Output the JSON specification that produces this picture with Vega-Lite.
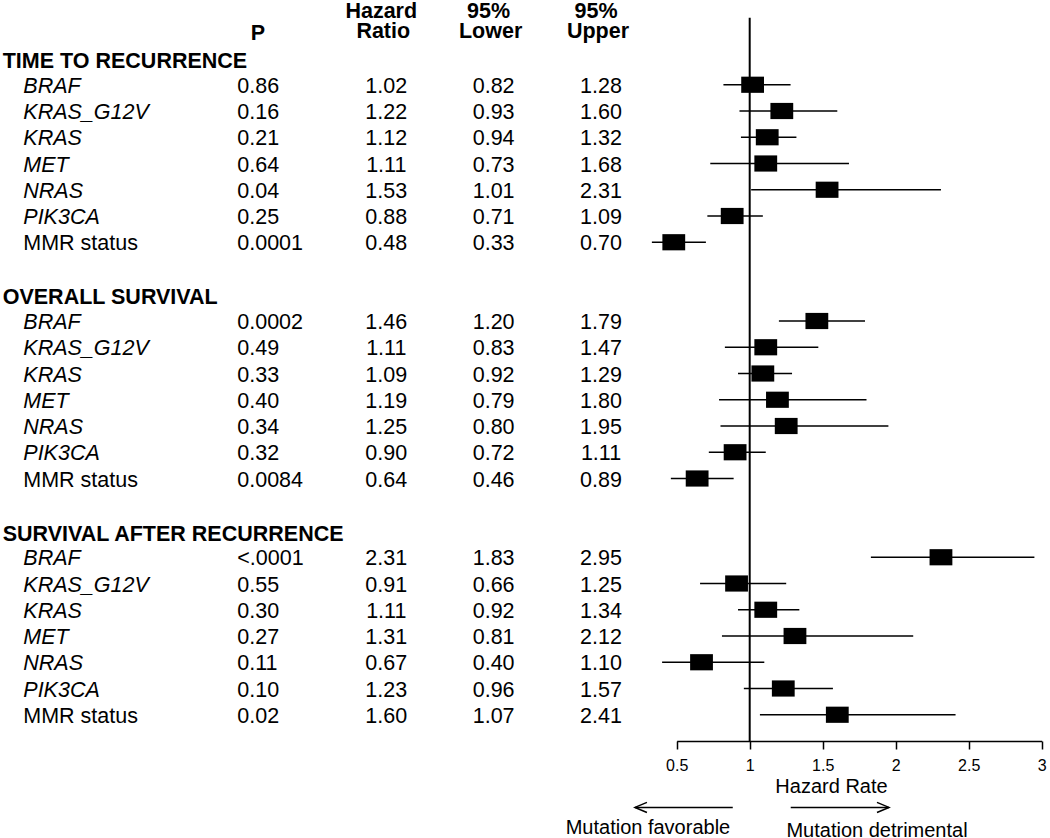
{
  "$schema": "https://vega.github.io/schema/vega-lite/v6.json",
  "width": 1050,
  "height": 741,
  "autosize": {"type": "none"},
  "padding": {"left": 0, "top": 0, "right": 0, "bottom": 97},
  "background": "white",
  "config": {"view": {"stroke": null}, "font": "Liberation Sans"},
  "datasets": {
    "rows": [
      {"section": "TIME TO RECURRENCE", "row": 1, "gene": "BRAF", "italic": true, "p": "0.86", "hr": 1.02, "lo": 0.82, "hi": 1.28},
      {"section": "TIME TO RECURRENCE", "row": 2, "gene": "KRAS_G12V", "italic": true, "p": "0.16", "hr": 1.22, "lo": 0.93, "hi": 1.60},
      {"section": "TIME TO RECURRENCE", "row": 3, "gene": "KRAS", "italic": true, "p": "0.21", "hr": 1.12, "lo": 0.94, "hi": 1.32},
      {"section": "TIME TO RECURRENCE", "row": 4, "gene": "MET", "italic": true, "p": "0.64", "hr": 1.11, "lo": 0.73, "hi": 1.68},
      {"section": "TIME TO RECURRENCE", "row": 5, "gene": "NRAS", "italic": true, "p": "0.04", "hr": 1.53, "lo": 1.01, "hi": 2.31},
      {"section": "TIME TO RECURRENCE", "row": 6, "gene": "PIK3CA", "italic": true, "p": "0.25", "hr": 0.88, "lo": 0.71, "hi": 1.09},
      {"section": "TIME TO RECURRENCE", "row": 7, "gene": "MMR status", "italic": false, "p": "0.0001", "hr": 0.48, "lo": 0.33, "hi": 0.70},
      {"section": "OVERALL SURVIVAL", "row": 10, "gene": "BRAF", "italic": true, "p": "0.0002", "hr": 1.46, "lo": 1.20, "hi": 1.79},
      {"section": "OVERALL SURVIVAL", "row": 11, "gene": "KRAS_G12V", "italic": true, "p": "0.49", "hr": 1.11, "lo": 0.83, "hi": 1.47},
      {"section": "OVERALL SURVIVAL", "row": 12, "gene": "KRAS", "italic": true, "p": "0.33", "hr": 1.09, "lo": 0.92, "hi": 1.29},
      {"section": "OVERALL SURVIVAL", "row": 13, "gene": "MET", "italic": true, "p": "0.40", "hr": 1.19, "lo": 0.79, "hi": 1.80},
      {"section": "OVERALL SURVIVAL", "row": 14, "gene": "NRAS", "italic": true, "p": "0.34", "hr": 1.25, "lo": 0.80, "hi": 1.95},
      {"section": "OVERALL SURVIVAL", "row": 15, "gene": "PIK3CA", "italic": true, "p": "0.32", "hr": 0.90, "lo": 0.72, "hi": 1.11},
      {"section": "OVERALL SURVIVAL", "row": 16, "gene": "MMR status", "italic": false, "p": "0.0084", "hr": 0.64, "lo": 0.46, "hi": 0.89},
      {"section": "SURVIVAL AFTER RECURRENCE", "row": 19, "gene": "BRAF", "italic": true, "p": "<.0001", "hr": 2.31, "lo": 1.83, "hi": 2.95},
      {"section": "SURVIVAL AFTER RECURRENCE", "row": 20, "gene": "KRAS_G12V", "italic": true, "p": "0.55", "hr": 0.91, "lo": 0.66, "hi": 1.25},
      {"section": "SURVIVAL AFTER RECURRENCE", "row": 21, "gene": "KRAS", "italic": true, "p": "0.30", "hr": 1.11, "lo": 0.92, "hi": 1.34},
      {"section": "SURVIVAL AFTER RECURRENCE", "row": 22, "gene": "MET", "italic": true, "p": "0.27", "hr": 1.31, "lo": 0.81, "hi": 2.12},
      {"section": "SURVIVAL AFTER RECURRENCE", "row": 23, "gene": "NRAS", "italic": true, "p": "0.11", "hr": 0.67, "lo": 0.40, "hi": 1.10},
      {"section": "SURVIVAL AFTER RECURRENCE", "row": 24, "gene": "PIK3CA", "italic": true, "p": "0.10", "hr": 1.23, "lo": 0.96, "hi": 1.57},
      {"section": "SURVIVAL AFTER RECURRENCE", "row": 25, "gene": "MMR status", "italic": false, "p": "0.02", "hr": 1.60, "lo": 1.07, "hi": 2.41}
    ],
    "sections": [
      {"section": "TIME TO RECURRENCE", "row": 0},
      {"section": "OVERALL SURVIVAL", "row": 9},
      {"section": "SURVIVAL AFTER RECURRENCE", "row": 18}
    ],
    "headers": [
      {"col": "p", "l1": "", "l2": "P", "row": -1},
      {"col": "hr", "l1": "Hazard", "l2": "Ratio", "row": -1},
      {"col": "lo", "l1": "95%", "l2": "Lower", "row": -1},
      {"col": "hi", "l1": "95%", "l2": "Upper", "row": -1}
    ],
    "arrows": [
      {"dir": "left", "from": 0.884, "to": 0.214, "row": 28.53},
      {"dir": "right", "from": 1.281, "to": 1.954, "row": 28.53}
    ],
    "notes": [
      {"label": "Mutation favorable", "hr": 0.303, "row": 29.27},
      {"label": "Mutation detrimental", "hr": 1.872, "row": 29.38}
    ]
  },
  "layer": [
    {
      "layer": [
        {
          "data": {"name": "sections"},
          "mark": {"type": "text", "align": "left", "baseline": "middle", "fontSize": 21.5, "fontWeight": "bold", "color": "black", "dx": -168.8, "dy": 3.5},
          "encoding": {
            "x": {"datum": "lbl", "type": "nominal", "scale": {"type": "point", "domain": ["lbl", "p", "hr", "lo", "hi"], "range": [171.5, 601], "padding": 0}, "axis": null},
            "y": {"field": "row", "type": "quantitative", "scale": {"domain": [0, 25], "range": [58.5, 714.75], "nice": false, "zero": false}, "axis": null},
            "text": {"field": "section"}
          }
        },
        {
          "data": {"name": "rows"},
          "transform": [{"filter": "datum.italic"}],
          "mark": {"type": "text", "align": "left", "baseline": "middle", "fontSize": 21.5, "fontStyle": "italic", "color": "black", "dx": -148.2, "dy": 2},
          "encoding": {
            "x": {"datum": "lbl", "type": "nominal", "scale": {"type": "point", "domain": ["lbl", "p", "hr", "lo", "hi"], "range": [171.5, 601], "padding": 0}, "axis": null},
            "y": {"field": "row", "type": "quantitative", "scale": {"domain": [0, 25], "range": [58.5, 714.75], "nice": false, "zero": false}, "axis": null},
            "text": {"field": "gene"}
          }
        },
        {
          "data": {"name": "rows"},
          "transform": [{"filter": "!datum.italic"}],
          "mark": {"type": "text", "align": "left", "baseline": "middle", "fontSize": 21.5, "color": "black", "dx": -148.2, "dy": 2},
          "encoding": {
            "x": {"datum": "lbl", "type": "nominal", "scale": {"type": "point", "domain": ["lbl", "p", "hr", "lo", "hi"], "range": [171.5, 601], "padding": 0}, "axis": null},
            "y": {"field": "row", "type": "quantitative", "scale": {"domain": [0, 25], "range": [58.5, 714.75], "nice": false, "zero": false}, "axis": null},
            "text": {"field": "gene"}
          }
        },
        {
          "data": {"name": "rows"},
          "mark": {"type": "text", "align": "left", "baseline": "middle", "fontSize": 21.5, "color": "black", "dx": -41.6, "dy": 2},
          "encoding": {
            "x": {"datum": "p", "type": "nominal", "scale": {"type": "point", "domain": ["lbl", "p", "hr", "lo", "hi"], "range": [171.5, 601], "padding": 0}, "axis": null},
            "y": {"field": "row", "type": "quantitative", "scale": {"domain": [0, 25], "range": [58.5, 714.75], "nice": false, "zero": false}, "axis": null},
            "text": {"field": "p"}
          }
        },
        {
          "data": {"name": "rows"},
          "transform": [{"fold": ["hr", "lo", "hi"]}],
          "mark": {"type": "text", "align": "center", "baseline": "middle", "fontSize": 21.5, "color": "black", "dy": 2},
          "encoding": {
            "x": {"field": "key", "type": "nominal", "scale": {"type": "point", "domain": ["lbl", "p", "hr", "lo", "hi"], "range": [171.5, 601], "padding": 0}, "axis": null},
            "y": {"field": "row", "type": "quantitative", "scale": {"domain": [0, 25], "range": [58.5, 714.75], "nice": false, "zero": false}, "axis": null},
            "text": {"field": "value", "type": "quantitative", "format": ".2f"}
          }
        },
        {
          "data": {"name": "headers"},
          "transform": [{"filter": "datum.col != 'p'"}],
          "mark": {"type": "text", "align": "center", "baseline": "middle", "fontSize": 21.5, "fontWeight": "bold", "color": "black", "dx": -3, "dy": 0},
          "encoding": {
            "x": {"field": "col", "type": "nominal", "scale": {"type": "point", "domain": ["lbl", "p", "hr", "lo", "hi"], "range": [171.5, 601], "padding": 0}, "axis": null},
            "y": {"field": "row", "type": "quantitative", "scale": {"domain": [0, 25], "range": [58.5, 714.75], "nice": false, "zero": false}, "axis": null},
            "text": {"field": "l2"}
          }
        },
        {
          "data": {"name": "headers"},
          "transform": [{"filter": "datum.col != 'p'"}],
          "mark": {"type": "text", "align": "center", "baseline": "middle", "fontSize": 21.5, "fontWeight": "bold", "color": "black", "dx": -5, "dy": -20},
          "encoding": {
            "x": {"field": "col", "type": "nominal", "scale": {"type": "point", "domain": ["lbl", "p", "hr", "lo", "hi"], "range": [171.5, 601], "padding": 0}, "axis": null},
            "y": {"field": "row", "type": "quantitative", "scale": {"domain": [0, 25], "range": [58.5, 714.75], "nice": false, "zero": false}, "axis": null},
            "text": {"field": "l1"}
          }
        },
        {
          "data": {"name": "headers"},
          "transform": [{"filter": "datum.col == 'p'"}],
          "mark": {"type": "text", "align": "center", "baseline": "middle", "fontSize": 21.5, "fontWeight": "bold", "color": "black", "dx": -21, "dy": 1.5},
          "encoding": {
            "x": {"field": "col", "type": "nominal", "scale": {"type": "point", "domain": ["lbl", "p", "hr", "lo", "hi"], "range": [171.5, 601], "padding": 0}, "axis": null},
            "y": {"field": "row", "type": "quantitative", "scale": {"domain": [0, 25], "range": [58.5, 714.75], "nice": false, "zero": false}, "axis": null},
            "text": {"field": "l2"}
          }
        }
      ]
    },
    {
      "layer": [
        {
          "data": {"name": "rows"},
          "mark": {"type": "rule", "color": "black", "strokeWidth": 1.5},
          "encoding": {
            "x": {
              "field": "lo", "type": "quantitative",
              "scale": {"domain": [0.5, 3], "range": [676.7, 1041.7], "nice": false, "zero": false},
              "axis": {
                "orient": "bottom", "values": [0.5, 1, 1.5, 2, 2.5, 3], "format": "~g", "grid": false,
                "domainColor": "black", "domainWidth": 1.5, "tickColor": "black", "tickWidth": 1.5, "tickSize": 8,
                "labelFont": "Liberation Sans", "labelFontSize": 16, "labelColor": "black", "labelPadding": 8,
                "labelFlush": false, "labelOverlap": false,
                "title": "Hazard Rate", "titleFont": "Liberation Sans", "titleFontSize": 20, "titleFontWeight": "normal",
                "titleColor": "black", "titleX": 831, "titleY": 45, "titleAlign": "center", "titleBaseline": "middle"
              }
            },
            "x2": {"field": "hi"},
            "y": {"field": "row", "type": "quantitative", "scale": {"domain": [0, 25], "range": [58.5, 714.75], "nice": false, "zero": false}, "axis": null}
          }
        },
        {
          "data": {"name": "rows"},
          "mark": {"type": "point", "shape": "M-1,-0.71L1,-0.71L1,0.71L-1,0.71Z", "filled": true, "size": 520, "color": "black", "opacity": 1},
          "encoding": {
            "x": {"field": "hr", "type": "quantitative"},
            "y": {"field": "row", "type": "quantitative", "scale": {"domain": [0, 25], "range": [58.5, 714.75], "nice": false, "zero": false}, "axis": null}
          }
        },
        {
          "data": {"values": [{}]},
          "mark": {"type": "rule", "color": "black", "strokeWidth": 2},
          "encoding": {
            "x": {"datum": 1, "type": "quantitative"},
            "y": {"datum": -1.55, "type": "quantitative", "scale": {"domain": [0, 25], "range": [58.5, 714.75], "nice": false, "zero": false}, "axis": null},
            "y2": {"datum": 26}
          }
        },
        {
          "data": {"name": "arrows"},
          "mark": {"type": "rule", "color": "black", "strokeWidth": 1.5},
          "encoding": {
            "x": {"field": "from", "type": "quantitative"},
            "x2": {"field": "to"},
            "y": {"field": "row", "type": "quantitative", "scale": {"domain": [0, 25], "range": [58.5, 714.75], "nice": false, "zero": false}, "axis": null}
          }
        },
        {
          "data": {"name": "arrows"},
          "mark": {"type": "point", "filled": false, "size": 576, "strokeWidth": 1.5, "color": "black", "opacity": 1},
          "encoding": {
            "x": {"field": "to", "type": "quantitative"},
            "y": {"field": "row", "type": "quantitative", "scale": {"domain": [0, 25], "range": [58.5, 714.75], "nice": false, "zero": false}, "axis": null},
            "shape": {"field": "dir", "type": "nominal", "scale": {"domain": ["left", "right"], "range": ["M1,-0.42L0,0L1,0.42", "M-1,-0.42L0,0L-1,0.42"]}, "legend": null}
          }
        },
        {
          "data": {"name": "notes"},
          "mark": {"type": "text", "align": "center", "baseline": "middle", "fontSize": 20, "color": "black", "dy": 1.5},
          "encoding": {
            "x": {"field": "hr", "type": "quantitative"},
            "y": {"field": "row", "type": "quantitative", "scale": {"domain": [0, 25], "range": [58.5, 714.75], "nice": false, "zero": false}, "axis": null},
            "text": {"field": "label"}
          }
        }
      ]
    }
  ],
  "resolve": {"scale": {"x": "independent"}, "axis": {"x": "independent"}}
}
